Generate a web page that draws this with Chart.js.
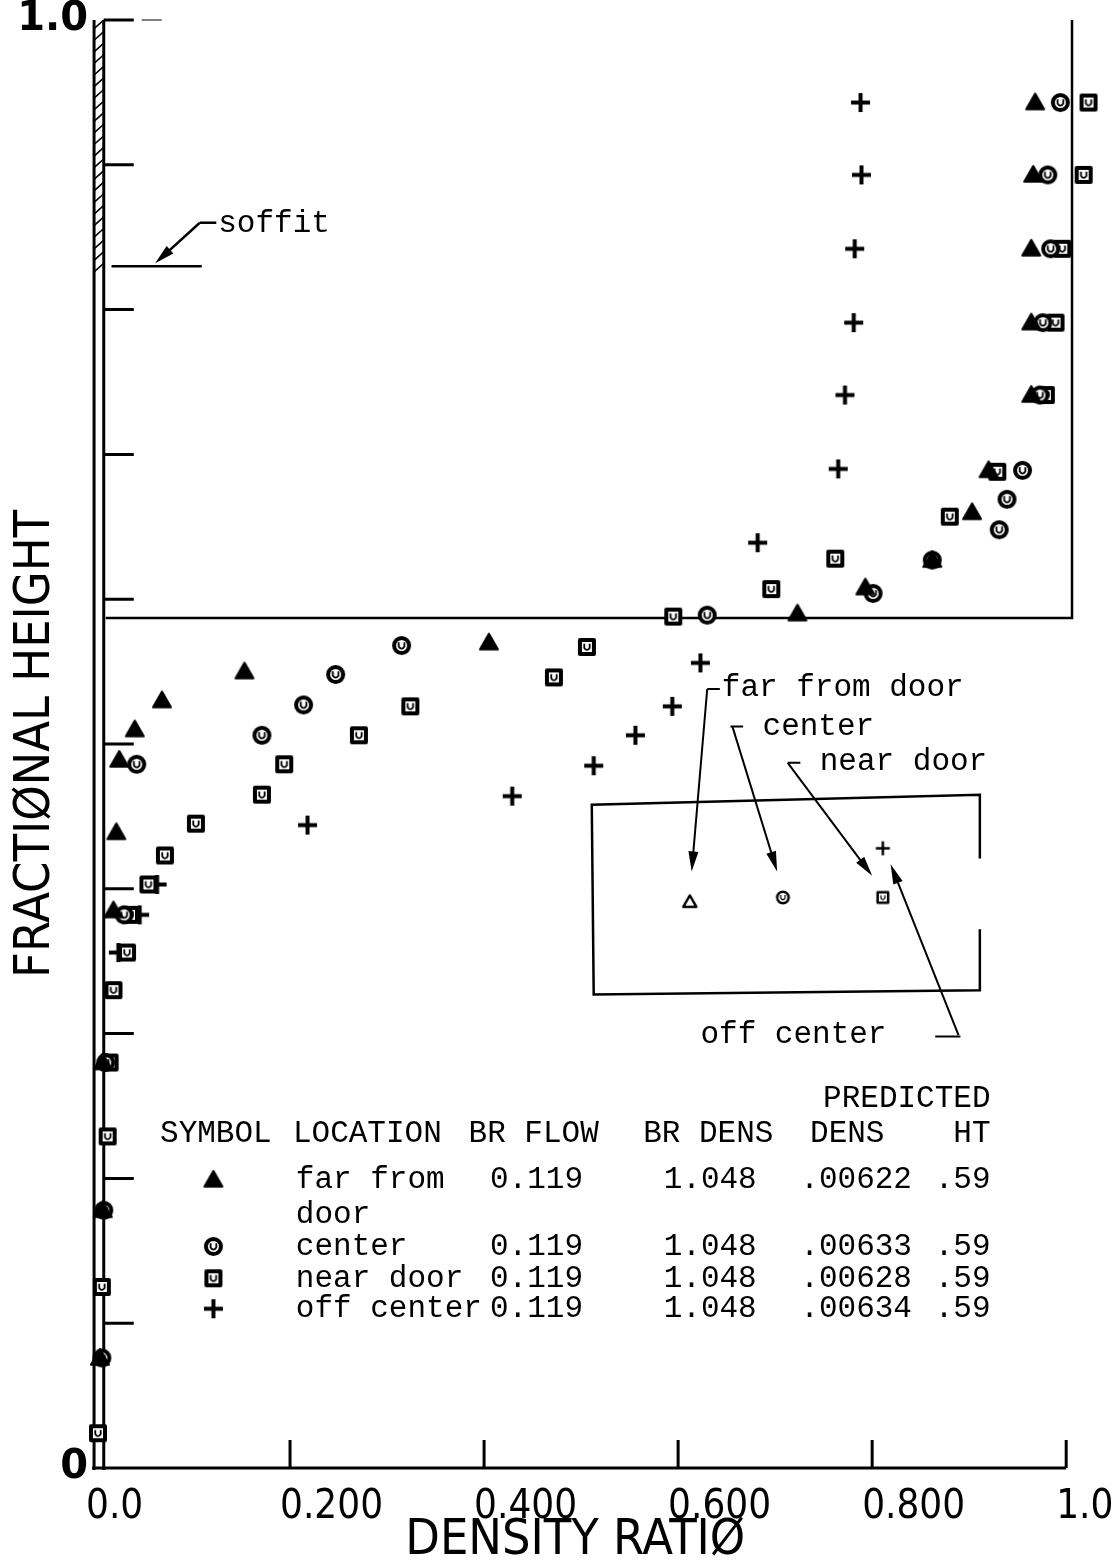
<!DOCTYPE html>
<html>
<head>
<meta charset="utf-8">
<script src="https://cdn.jsdelivr.net/npm/chart.js@4.4.1/dist/chart.umd.min.js"></script>
<style>
  html, body { margin: 0; padding: 0; background: #fff; }
  #wrap { width: 1117px; height: 1568px; }
</style>
</head>
<body>
<div id="wrap"><canvas id="densityChart" width="1117" height="1568" style="width:1117px;height:1568px"></canvas></div>
<script>
// values: density ratio (x) against fractional height (y)
const farRatio  = [0.968, 0.966, 0.964, 0.964, 0.964, 0.920, 0.903, 0.862, 0.793, 0.723, 0.405, 0.153, 0.068, 0.040, 0.024, 0.021, 0.018, 0.007, 0.007, 0.004];
const farHeight = [0.943, 0.893, 0.842, 0.791, 0.741, 0.689, 0.660, 0.627, 0.608, 0.590, 0.570, 0.550, 0.530, 0.510, 0.489, 0.439, 0.385, 0.280, 0.178, 0.076];

const centerRatio  = [0.994, 0.981, 0.984, 0.976, 0.973, 0.955, 0.939, 0.931, 0.862, 0.801, 0.630, 0.315, 0.247, 0.214, 0.171, 0.042, 0.029, 0.010, 0.008, 0.006];
const centerHeight = [0.943, 0.893, 0.842, 0.791, 0.741, 0.689, 0.669, 0.648, 0.627, 0.604, 0.589, 0.568, 0.548, 0.527, 0.506, 0.486, 0.382, 0.280, 0.178, 0.076];

const nearRatio  = [1.023, 1.018, 0.996, 0.989, 0.979, 0.929, 0.880, 0.762, 0.696, 0.595, 0.506, 0.472, 0.324, 0.271, 0.194, 0.171, 0.103, 0.071, 0.054, 0.035, 0.032, 0.018, 0.014, 0.012, 0.006, 0.002];
const nearHeight = [0.943, 0.893, 0.842, 0.791, 0.741, 0.688, 0.657, 0.628, 0.607, 0.588, 0.567, 0.546, 0.526, 0.506, 0.486, 0.465, 0.445, 0.423, 0.403, 0.382, 0.356, 0.330, 0.280, 0.229, 0.125, 0.024];

const offRatio  = [0.788, 0.789, 0.782, 0.781, 0.772, 0.765, 0.682, 0.623, 0.594, 0.556, 0.513, 0.429, 0.218, 0.063, 0.045, 0.023];
const offHeight = [0.943, 0.893, 0.842, 0.791, 0.741, 0.690, 0.639, 0.556, 0.526, 0.506, 0.485, 0.464, 0.444, 0.403, 0.382, 0.356];

// sketch of the probe positions inside the little box
const keyRatio  = [0.612, 0.708, 0.811, 0.811];
const keyHeight = [0.391, 0.394, 0.394, 0.428];

const xTickValues = [0, 0.2, 0.4, 0.6, 0.8, 1.0];
const xTickLabels = ["0.0", "0.200", "0.400", "0.600", "0.800", "1.0"];
const interfaceHeight = 0.587;
const soffitHeight = 0.830;

// table under the data
const tableLocation = [["far from", "door"], ["center"], ["near door"], ["off center"]];
const tableFlow = ["0.119", "0.119", "0.119", "0.119"];
const tableDens = ["1.048", "1.048", "1.048", "1.048"];
const tablePredDens = [".00622", ".00633", ".00628", ".00634"];
const tablePredHt = [".59", ".59", ".59", ".59"];

// marker images, drawn once
function makeMarker(kind, size, lw) {
    const c = document.createElement("canvas");
    const s = Math.ceil(size + lw + 2);
    c.width = s; c.height = s;
    const g = c.getContext("2d");
    g.translate(s / 2, s / 2);
    g.strokeStyle = "#000"; g.fillStyle = "#000"; g.lineWidth = lw;
    g.lineJoin = "round";
    const h = size / 2;
    const drawU = function() {
        g.lineWidth = Math.max(1.2, lw * 0.45);
        g.beginPath();
        g.moveTo(-h * 0.3, -h * 0.35);
        g.lineTo(-h * 0.3, h * 0.1);
        g.quadraticCurveTo(0, h * 0.55, h * 0.3, h * 0.1);
        g.lineTo(h * 0.3, -h * 0.35);
        g.stroke();
    };
    if (kind === "tri" || kind === "triOpen") {
        g.beginPath();
        g.moveTo(0, -h);
        g.lineTo(h, h * 0.75);
        g.lineTo(-h, h * 0.75);
        g.closePath();
        if (kind === "tri") g.fill();
        g.stroke();
    } else if (kind === "ring") {
        g.beginPath();
        g.arc(0, 0, h - lw / 2, 0, Math.PI * 2);
        g.fillStyle = "#fff"; g.fill();
        g.stroke();
        drawU();
    } else if (kind === "box") {
        g.fillStyle = "#fff";
        g.fillRect(-h + lw / 2, -h + lw / 2, size - lw, size - lw);
        g.strokeRect(-h + lw / 2, -h + lw / 2, size - lw, size - lw);
        drawU();
    } else if (kind === "plus") {
        g.beginPath();
        g.moveTo(-h, 0); g.lineTo(h, 0);
        g.moveTo(0, -h); g.lineTo(0, h);
        g.stroke();
    }
    return c;
}

const mTri = makeMarker("tri", 18, 2);
const mRing = makeMarker("ring", 19, 4);
const mBox = makeMarker("box", 18, 4);
const mPlus = makeMarker("plus", 19, 4);
const kTri = makeMarker("triOpen", 13, 2.5);
const kRing = makeMarker("ring", 14, 2.5);
const kBox = makeMarker("box", 13, 2.5);
const kPlus = makeMarker("plus", 14, 2.5);

function pairs(xs, ys) {
    return xs.map(function(v, i) { return { x: v, y: ys[i] }; });
}

const monoFont = "31px 'Liberation Mono', 'DejaVu Sans Mono', monospace";
const plotterFamily = "'DejaVu Sans Condensed', 'Liberation Sans Narrow', 'DejaVu Sans', sans-serif";

function arrowTo(ctx, x1, y1, x2, y2) {
    const a = Math.atan2(y2 - y1, x2 - x1);
    ctx.beginPath();
    ctx.moveTo(x1, y1);
    ctx.lineTo(x2 - 14 * Math.cos(a), y2 - 14 * Math.sin(a));
    ctx.stroke();
    ctx.beginPath();
    ctx.moveTo(x2, y2);
    ctx.lineTo(x2 - 20 * Math.cos(a) + 5 * Math.sin(a), y2 - 20 * Math.sin(a) - 5 * Math.cos(a));
    ctx.lineTo(x2 - 20 * Math.cos(a) - 5 * Math.sin(a), y2 - 20 * Math.sin(a) + 5 * Math.cos(a));
    ctx.closePath();
    ctx.fill();
}

// everything the library does not draw: wall, ticks, dividing lines, notes, table
const plotDecor = {
    id: "plotDecor",
    beforeDatasetsDraw(chart) {
        const ctx = chart.ctx;
        const xs = chart.scales.x, ys = chart.scales.y;
        const X = v => xs.getPixelForValue(v), Y = v => ys.getPixelForValue(v);
        ctx.save();
        ctx.strokeStyle = "#000"; ctx.fillStyle = "#000";

        // double wall line on the left, hatched above the soffit
        ctx.lineWidth = 3;
        ctx.beginPath();
        ctx.moveTo(X(-0.002), Y(1.0)); ctx.lineTo(X(-0.002), Y(0) + 2);
        ctx.moveTo(X(0.008), Y(1.0)); ctx.lineTo(X(0.008), Y(0) + 2);
        ctx.stroke();
        ctx.lineWidth = 1.6;
        ctx.beginPath();
        for (let v = 1.0; v > soffitHeight; v -= 0.008) {
            ctx.moveTo(X(-0.002), Y(v - 0.006));
            ctx.lineTo(X(0.008), Y(v));
        }
        ctx.stroke();

        // bottom axis with inward ticks
        ctx.lineWidth = 3;
        ctx.beginPath();
        ctx.moveTo(X(-0.004), Y(0)); ctx.lineTo(X(1.0), Y(0));
        xs.ticks.forEach(function(t) {
            if (t.value > 0) { ctx.moveTo(X(t.value), Y(0)); ctx.lineTo(X(t.value), Y(0) - 28); }
        });
        // left axis ticks pointing into the plot
        ys.ticks.forEach(function(t) {
            if (t.value > 0) { ctx.moveTo(X(0.008), Y(t.value)); ctx.lineTo(X(0.008) + 30, Y(t.value)); }
        });
        ctx.stroke();
        ctx.lineWidth = 1;
        ctx.beginPath();
        ctx.moveTo(X(0.008) + 38, Y(1.0)); ctx.lineTo(X(0.008) + 58, Y(1.0));
        ctx.stroke();

        // interface line and right-hand wall of the upper layer
        ctx.lineWidth = 2.5;
        ctx.beginPath();
        ctx.moveTo(X(0.010), Y(interfaceHeight));
        ctx.lineTo(X(1.006), Y(interfaceHeight));
        ctx.lineTo(X(1.006), Y(1.0));
        ctx.stroke();

        // soffit mark
        ctx.beginPath();
        ctx.moveTo(X(0.016), Y(soffitHeight)); ctx.lineTo(X(0.109), Y(soffitHeight));
        ctx.stroke();
        ctx.lineWidth = 2.5;
        ctx.beginPath();
        ctx.moveTo(X(0.124), Y(0.860)); ctx.lineTo(X(0.107), Y(0.860));
        ctx.stroke();
        arrowTo(ctx, X(0.107), Y(0.860), X(0.061), Y(0.832));

        // box around the probe sketch, open on the right
        ctx.lineWidth = 2.5;
        ctx.beginPath();
        ctx.moveTo(X(0.911), Y(0.421));
        ctx.lineTo(X(0.911), Y(0.465));
        ctx.lineTo(X(0.511), Y(0.458));
        ctx.lineTo(X(0.513), Y(0.327));
        ctx.lineTo(X(0.911), Y(0.330));
        ctx.lineTo(X(0.911), Y(0.372));
        ctx.stroke();

        // leaders from the labels to the probe sketch
        ctx.lineWidth = 2;
        ctx.beginPath();
        ctx.moveTo(X(0.630), Y(0.538)); ctx.lineTo(X(0.643), Y(0.538));
        ctx.moveTo(X(0.654), Y(0.512)); ctx.lineTo(X(0.667), Y(0.512));
        ctx.moveTo(X(0.713), Y(0.487)); ctx.lineTo(X(0.726), Y(0.487));
        ctx.moveTo(X(0.865), Y(0.298)); ctx.lineTo(X(0.891), Y(0.298));
        ctx.stroke();
        arrowTo(ctx, X(0.630), Y(0.538), X(0.614), Y(0.412));
        arrowTo(ctx, X(0.656), Y(0.512), X(0.702), Y(0.412));
        arrowTo(ctx, X(0.713), Y(0.487), X(0.800), Y(0.409));
        arrowTo(ctx, X(0.889), Y(0.299), X(0.819), Y(0.417));
        ctx.restore();
    },
    afterDraw(chart) {
        const ctx = chart.ctx;
        const xs = chart.scales.x, ys = chart.scales.y;
        const X = v => xs.getPixelForValue(v), Y = v => ys.getPixelForValue(v);
        ctx.save();
        ctx.fillStyle = "#000";

        // x axis title, centred under the 0..1 span rather than the padded scale
        ctx.font = "50px " + plotterFamily;
        ctx.textAlign = "center";
        ctx.textBaseline = "middle";
        ctx.fillText("DENSITY RATIØ", X(0.494), xs.bottom - 27);

        ctx.font = monoFont;
        ctx.textAlign = "left";
        ctx.fillText("soffit", X(0.126), Y(0.859));
        ctx.fillText("far from door", X(0.645), Y(0.539));
        ctx.fillText("center", X(0.687), Y(0.512));
        ctx.fillText("near door", X(0.746), Y(0.488));
        ctx.fillText("off center", X(0.623), Y(0.299));

        // table
        ctx.textAlign = "right";
        ctx.fillText("PREDICTED", X(0.922), Y(0.255));
        ctx.fillText("HT", X(0.922), Y(0.231));
        ctx.textAlign = "left";
        ctx.fillText("SYMBOL", X(0.066), Y(0.231));
        ctx.fillText("LOCATION", X(0.203), Y(0.231));
        ctx.fillText("BR FLOW", X(0.384), Y(0.231));
        ctx.fillText("BR DENS", X(0.564), Y(0.231));
        ctx.fillText("DENS", X(0.736), Y(0.231));

        const rowY = [0.199, 0.153, 0.131, 0.110];
        const symbols = [mTri, mRing, mBox, mPlus];
        tableLocation.forEach(function(loc, i) {
            const yy = Y(rowY[i]);
            const img = symbols[i];
            ctx.drawImage(img, X(0.121) - img.width / 2, yy - img.height / 2);
            ctx.textAlign = "left";
            ctx.fillText(loc[0], X(0.206), yy);
            if (loc[1]) ctx.fillText(loc[1], X(0.206), Y(rowY[i] - 0.024));
            ctx.textAlign = "right";
            ctx.fillText(tableFlow[i], X(0.502), yy);
            ctx.fillText(tableDens[i], X(0.681), yy);
            ctx.fillText(tablePredHt[i], X(0.922), yy);
            ctx.textAlign = "left";
            ctx.fillText(tablePredDens[i], X(0.726), yy);
        });
        ctx.restore();
    }
};

const pointBase = { showLine: false, clip: false, pointRadius: 8, pointHoverRadius: 8 };

new Chart(document.getElementById("densityChart"), {
    type: "scatter",
    data: {
        datasets: [
            Object.assign({ label: "far from door", data: pairs(farRatio, farHeight), pointStyle: mTri }, pointBase),
            Object.assign({ label: "center", data: pairs(centerRatio, centerHeight), pointStyle: mRing }, pointBase),
            Object.assign({ label: "near door", data: pairs(nearRatio, nearHeight), pointStyle: mBox }, pointBase),
            Object.assign({ label: "off center", data: pairs(offRatio, offHeight), pointStyle: mPlus }, pointBase),
            Object.assign({ label: "probe layout", data: pairs(keyRatio, keyHeight), pointStyle: [kTri, kRing, kBox, kPlus] }, pointBase)
        ]
    },
    options: {
        responsive: false,
        animation: false,
        devicePixelRatio: 1,
        layout: { padding: { top: 20, right: 12, left: 0, bottom: 0 } },
        plugins: { legend: { display: false }, tooltip: { enabled: false } },
        scales: {
            x: {
                type: "linear",
                min: 0, max: 1.04,
                grid: { display: false, drawTicks: false, tickLength: 0 },
                border: { display: false },
                afterBuildTicks: function(s) {
                    s.ticks = xTickValues.map(function(v) { return { value: v }; });
                },
                ticks: {
                    autoSkip: false,
                    maxRotation: 0,
                    align: "start",
                    labelOffset: -10,
                    padding: 16,
                    color: "#000",
                    font: { family: plotterFamily, size: 40 },
                    callback: function(v, i) { return xTickLabels[i]; }
                },
                title: { display: false },
                afterFit: function(s) { s.height = 100; s.paddingLeft = 0; s.paddingRight = 0; }
            },
            y: {
                type: "linear",
                min: 0, max: 1.0,
                grid: { display: false, drawTicks: false, tickLength: 0 },
                border: { display: false },
                ticks: {
                    stepSize: 0.1,
                    autoSkip: false,
                    padding: 8,
                    color: "#000",
                    font: { family: "'DejaVu Sans', sans-serif", size: 40, weight: "bold" },
                    callback: function(v, i, ticks) {
                        if (i === 0) return "0";
                        if (i === ticks.length - 1) return "1.0";
                        return "";
                    }
                },
                title: {
                    display: true,
                    text: "FRACTIØNAL HEIGHT",
                    color: "#000",
                    font: { family: plotterFamily, size: 50, lineHeight: 1.2 },
                    padding: { top: 6, bottom: 0 }
                },
                afterFit: function(s) { s.width = 96; s.paddingTop = 0; s.paddingBottom = 0; }
            }
        }
    },
    plugins: [plotDecor]
});
</script>
</body>
</html>
